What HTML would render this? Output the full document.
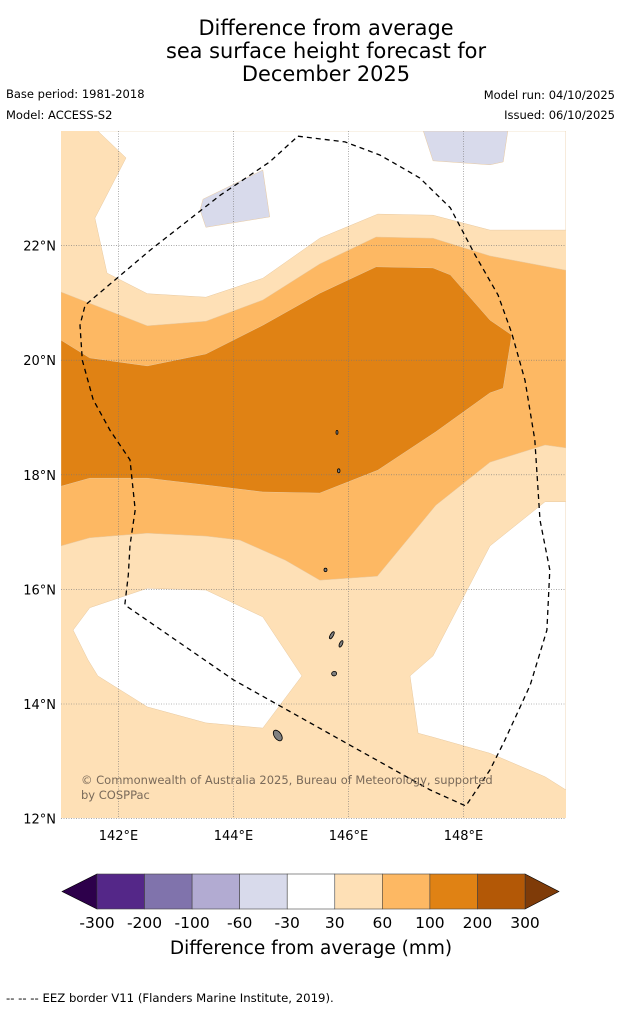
<!DOCTYPE html>
<html><head><meta charset="utf-8"><style>
body{margin:0;background:#fff;width:621px;height:1011px;overflow:hidden;font-family:"DejaVu Sans","Liberation Sans",sans-serif}
svg{position:absolute;left:0;top:0}
</style></head><body>
<svg id="s" width="621" height="1011" viewBox="0 0 621 1011">
<text x="326" y="35" font-size="20.9" text-anchor="middle">Difference from average</text>
<text x="326" y="58" font-size="20.9" text-anchor="middle">sea surface height forecast for</text>
<text x="326" y="81" font-size="20.9" text-anchor="middle">December 2025</text>
<text x="6" y="98" font-size="11.5">Base period: 1981-2018</text>
<text x="6" y="119" font-size="11.5">Model: ACCESS-S2</text>
<text x="615" y="99" font-size="11.5" text-anchor="end">Model run: 04/10/2025</text>
<text x="615" y="119" font-size="11.5" text-anchor="end">Issued: 06/10/2025</text>
<defs><clipPath id="mc"><rect x="61" y="131" width="505" height="687"/></clipPath></defs>
<g id="map" clip-path="url(#mc)"></g>
<g id="axes"></g>
<text x="81" y="784" font-size="11.5" fill="#7a6a5a">© Commonwealth of Australia 2025, Bureau of Meteorology, supported</text>
<text x="81" y="799" font-size="11.5" fill="#7a6a5a">by COSPPac</text>
<g id="cbar"></g>
<text x="311" y="954" font-size="18.5" text-anchor="middle">Difference from average (mm)</text>
<text x="6" y="1002" font-size="11.7">--  --  -- EEZ border V11 (Flanders Marine Institute, 2019).</text>
</svg>
<script>
const ns="http://www.w3.org/2000/svg";
// contour regions as [lon,lat]
const whiteTop=[[141.64,24],[142.13,23.53],[141.59,22.48],[141.8,21.52],[142.5,21.16],[143.52,21.1],[144.51,21.43],[145.5,22.13],[146.51,22.55],[147.47,22.53],[148.46,22.27],[149.78,22.27],[149.78,24]];
const band60=[[141,21.19],[142.5,20.6],[143.52,20.68],[144.51,21.05],[145.5,21.68],[146.48,22.15],[147.47,22.13],[148.46,21.82],[149.78,21.57],[149.78,18.47],[149.42,18.52],[148.46,18.22],[147.52,17.47],[146.5,16.23],[145.5,16.16],[144.9,16.51],[144.11,16.86],[143.52,16.93],[142.5,16.98],[141.5,16.9],[141,16.76]];
const band100=[[141,20.35],[141.5,20.04],[142.5,19.9],[143.52,20.11],[144.51,20.61],[145.5,21.17],[146.48,21.63],[147.47,21.61],[147.77,21.49],[148.46,20.7],[148.84,20.44],[148.69,19.51],[148.46,19.43],[147.52,18.75],[146.51,18.08],[145.5,17.68],[144.51,17.7],[143.52,17.82],[142.5,17.94],[141.5,17.94],[141,17.8]];
const whiteBL=[[141.21,15.29],[141.5,15.68],[142.5,16.02],[143.52,15.99],[144.51,15.52],[145.19,14.49],[144.51,13.58],[143.52,13.67],[142.5,13.95],[141.64,14.49],[141.47,14.77]];
const whiteBR=[[147.07,14.49],[147.47,14.84],[148.46,16.76],[149.42,17.53],[149.78,17.53],[149.78,12.5],[149.42,12.73],[148.46,13.14],[147.47,13.42],[147.21,13.49]];
const lav1=[[143.42,22.62],[143.47,22.81],[144.51,23.32],[144.63,22.5],[143.52,22.32]];
const lav2=[[147.3,24],[148.77,24],[148.69,23.46],[148.46,23.41],[147.47,23.48]];
const eez=[[145.12,23.91],[145.94,23.81],[146.55,23.58],[147.24,23.18],[147.77,22.66],[148.2,21.84],[148.6,21.14],[148.84,20.47],[149.07,19.65],[149.24,18.61],[149.33,17.21],[149.5,16.34],[149.45,15.29],[149.16,14.33],[148.72,13.37],[148.46,12.85],[148.04,12.22],[147.42,12.5],[146.03,13.28],[144,14.42],[142.11,15.73],[142.17,16.25],[142.2,16.77],[142.29,17.39],[142.2,18.26],[141.85,18.78],[141.56,19.31],[141.37,20.0],[141.33,20.61],[141.42,20.96],[142.55,21.92],[143.77,22.88],[144.63,23.46],[145.12,23.91]];
const islands=[[144.77,13.45,7,10,-35],[145.71,15.2,3,6,30],[145.87,15.05,3,5,25],[145.75,14.53,5,2.5,-15],[145.6,16.34,3,1.5,0],[145.83,18.07,2.5,2,0],[145.8,18.74,2,2,0]];
const lonTicks=[142,144,146,148];
const latTicks=[12,14,16,18,20,22];
const cbColors=["#542788","#8073ac","#b2abd2","#d8daeb","#ffffff","#fee0b6","#fdb863","#e08214","#b35806"];
const cbLabels=["-300","-200","-100","-60","-30","30","60","100","200","300"];
const X=lon=>61+(lon-141)*57.5, Y=lat=>131+(24-lat)*57.3;
const map=document.getElementById('map'),axes=document.getElementById('axes'),cb=document.getElementById('cbar');
function mk(p,t,a){const e=document.createElementNS(ns,t);for(const k in a)e.setAttribute(k,a[k]);p.appendChild(e);return e;}
const pts=a=>a.map(p=>X(p[0]).toFixed(1)+','+Y(p[1]).toFixed(1)).join(' ');
let r=mk(map,'rect',{x:61,y:131,width:505,height:687,fill:'#fee0b6'});


[[whiteTop,'#ffffff','white-region-north'],[whiteBL,'#ffffff','white-region-southwest'],[whiteBR,'#ffffff','white-region-southeast'],[band60,'#fdb863','band-60-100'],[band100,'#e08214','band-100-200'],[lav1,'#d8daeb','band-neg-30-60-west'],[lav2,'#d8daeb','band-neg-30-60-east']].forEach(d=>{
 const e=mk(map,'polygon',{points:pts(d[0]),fill:d[1],stroke:'#e8c9a0','stroke-width':0.5});
 
 
});
lonTicks.forEach(l=>{const g=mk(axes,'line',{x1:X(l),x2:X(l),y1:131,y2:818,stroke:'#777','stroke-width':0.6,'stroke-dasharray':'1,1.5'});
 
 
 const t=mk(axes,'text',{x:X(l),y:840,'font-size':13,'text-anchor':'middle'});t.textContent=l+'°E';
 
 });
latTicks.forEach(l=>{const g=mk(axes,'line',{x1:61,x2:566,y1:Y(l),y2:Y(l),stroke:'#777','stroke-width':0.6,'stroke-dasharray':'1,1.5'});
 
 
 const t=mk(axes,'text',{x:56,y:Y(l)+5,'font-size':13,'text-anchor':'end'});t.textContent=l+'°N';
 
 });
islands.forEach(i=>{const e=mk(axes,'ellipse',{cx:X(i[0]),cy:Y(i[1]),rx:i[2]/2,ry:i[3]/2+1,fill:'#808080',stroke:'#000','stroke-width':0.8,transform:`rotate(${i[4]} ${X(i[0])} ${Y(i[1])})`});
 
 });
const ez=mk(axes,'polyline',{points:pts(eez),fill:'none',stroke:'#000','stroke-width':1.3,'stroke-dasharray':'5,4'});


const bx=97,bw=(525-97)/cbColors.length,by=874,bh=35;
let tl=mk(cb,'polygon',{points:`${bx},${by} ${bx},${by+bh} 62,${by+bh/2}`,fill:'#2d004b',stroke:'#000','stroke-width':0.6});


let tr=mk(cb,'polygon',{points:`525,${by} 525,${by+bh} 559,${by+bh/2}`,fill:'#7f3b08',stroke:'#000','stroke-width':0.6});


cbColors.forEach((c,i)=>{const e=mk(cb,'rect',{x:bx+i*bw,y:by,width:bw,height:bh,fill:c,stroke:'#444','stroke-width':0.6});
 
 });
cbLabels.forEach((l,i)=>{const t=mk(cb,'text',{x:bx+i*bw,y:928,'font-size':15.5,'text-anchor':'middle'});t.textContent=l;
 
 });
</script>
</body></html>
